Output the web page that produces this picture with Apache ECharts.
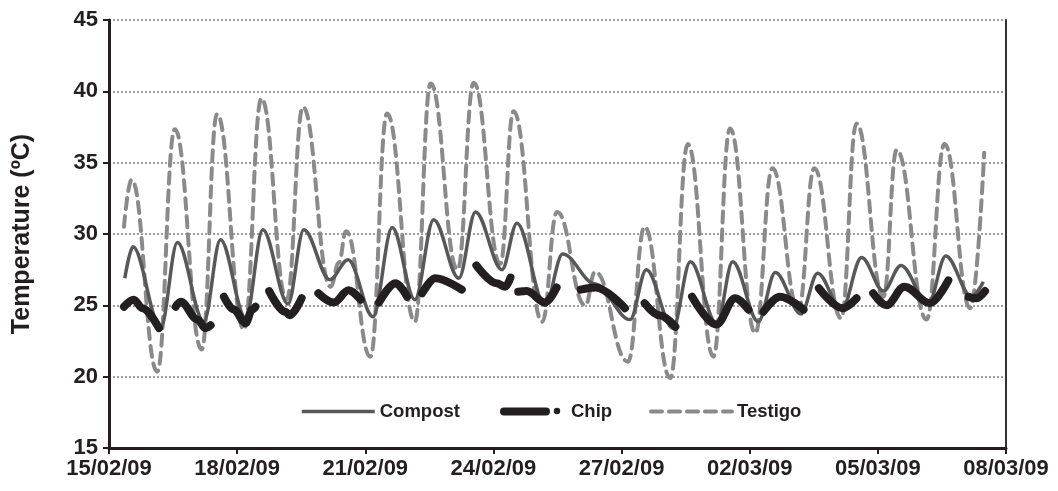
<!DOCTYPE html>
<html>
<head>
<meta charset="utf-8">
<script src="https://cdn.jsdelivr.net/npm/echarts@6/dist/echarts.min.js"></script>
<style>html,body{margin:0;padding:0;background:#fff;}#c{width:1058px;height:491px;}</style>
</head>
<body>
<div id="c"></div>
<script>
// x values are days since 15/02/09
var xTickLabels = ['15/02/09','18/02/09','21/02/09','24/02/09','27/02/09','02/03/09','05/03/09','08/03/09'];
var yTicks = [15,20,25,30,35,40,45];

var testigoDays = [0.35,0.53,1.13,1.54,2.17,2.53,3.16,3.57,4.16,4.54,5.19,5.38,5.55,6.12,6.51,7.16,7.53,8.16,8.54,9.16,9.47,10.14,10.49,11.15,11.38,12.15,12.54,13.14,13.55,14.15,14.54,15.13,15.53,16.14,16.51,17.14,17.50,18.13,18.44,19.14,19.56,20.16,20.49];
var testigoVals = [30.5,33.8,20.35,37.35,21.9,38.4,23.3,39.5,25.4,38.9,26.3,28.0,30.2,21.4,38.45,23.85,40.55,27.5,40.6,27.9,38.6,23.85,31.55,25.0,27.35,21.05,30.5,19.9,36.3,21.4,37.4,23.05,34.6,24.7,34.6,24.1,37.75,25.6,35.9,24.0,36.3,24.8,35.7];

var compostDays = [0.37,0.56,1.21,1.60,2.22,2.61,3.20,3.60,4.19,4.56,5.17,5.60,6.18,6.63,7.16,7.60,8.19,8.58,9.20,9.55,10.21,10.62,11.38,12.20,12.58,13.20,13.61,14.23,14.60,15.20,15.60,16.20,16.59,17.15,17.62,18.13,18.54,19.18,19.59,20.19,20.47];
var compostVals = [26.9,29.1,23.4,29.4,23.85,29.6,24.1,30.3,25.1,30.3,26.8,28.2,24.2,30.45,25.4,31.0,26.9,31.55,27.5,30.75,25.0,28.6,26.5,24.0,27.5,23.4,28.05,23.7,28.05,23.85,27.3,24.4,27.25,24.7,28.35,26.0,27.8,25.1,28.45,25.6,26.65];

// null entries break the Chip line into its separate pieces
var chipDays = [0.35,0.58,0.78,1.17,1.3, 1.56,1.68,2.07,2.26,2.38,2.5, 2.69,2.92,3.20,3.35,3.43,3.6, 3.75,4.13,4.23,4.51,4.7, 4.90,5.26,5.61,5.89,6.1, 6.32,6.71,6.98,7.15, 7.33,7.64,8.26,8.4, 8.60,9.07,9.28,9.40,9.5, 9.58,9.78,10.21,10.48,10.7, 11.04,11.39,12.08,12.3, 12.54,12.89,13.26,13.4, 13.65,14.22,14.66,14.97,15.1, 15.32,15.71,16.26,16.4, 16.62,17.17,17.50,17.7, 17.89,18.20,18.62,19.22,19.65,19.9, 20.12,20.31,20.51];
var chipVals = [24.9,25.4,24.8,23.4,null, 24.9,25.25,24.0,23.4,23.6,null, 25.6,24.7,23.75,24.7,24.9,null, 26.0,24.55,24.3,25.5,null, 25.85,25.2,26.05,25.4,null, 25.2,26.55,25.6,null, 25.84,26.9,26.1,null, 27.8,26.55,26.3,26.95,null, 25.95,26.0,25.2,26.25,null, 26.1,26.25,24.8,null, 25.15,24.3,23.5,null, 25.6,23.65,25.5,24.7,null, 24.55,25.6,24.7,null, 26.2,24.8,25.5,null, 25.85,25.0,26.3,25.15,26.75,null, 25.6,25.5,26.0];

function pairs(xs, ys){ var out=[]; for(var i=0;i<xs.length;i++){ out.push([xs[i], ys[i]]); } return out; }

var labelFont = {fontFamily:'Liberation Sans', fontWeight:'bold', fontSize:22, color:'#231f20'};
function mkLegend(name, left, w, lw, padLeft){
  return {left:left, top:402, padding:0, itemWidth:w, itemHeight:12,
          textStyle:{fontFamily:'Liberation Sans', fontWeight:'bold', fontSize:18.5, color:'#231f20', padding:[0,0,0,padLeft]},
          itemStyle:{opacity:0}, data:[{name:name, lineStyle:{width:lw}}]};
}
var chart = echarts.init(document.getElementById('c'), null, {renderer:'canvas'});
chart.setOption({
  animation:false,
  backgroundColor:'#fff',
  grid:{left:109, right:52, top:20, bottom:43, containLabel:false},
  legend:[mkLegend('Compost',300,73,3.5,0), mkLegend('Chip',500,42,8,20), mkLegend('Testigo',649,81,4,0)],
  graphic:[{type:'circle', shape:{cx:557, cy:411, r:3.2}, style:{fill:'#231f20'}, silent:true}],
  xAxis:{
    type:'value', min:0, max:21, interval:3,
    axisLine:{show:true, onZero:false, lineStyle:{color:'#231f20', width:3}},
    axisTick:{show:true, inside:false, length:6, lineStyle:{color:'#231f20', width:2}},
    splitLine:{show:false},
    axisLabel:Object.assign({margin:10, formatter:function(v){ return xTickLabels[Math.round(v/3)]; }}, labelFont)
  },
  yAxis:[{
    type:'value', min:yTicks[0], max:yTicks[yTicks.length-1], interval:5,
    name:'Temperature (ºC)', nameLocation:'middle', nameGap:74,
    nameTextStyle:{fontFamily:'Liberation Sans', fontWeight:'bold', fontSize:25, color:'#231f20'},
    axisLine:{show:true, lineStyle:{color:'#231f20', width:3}},
    axisTick:{show:true, inside:false, length:6, lineStyle:{color:'#231f20', width:2}},
    splitLine:{show:true, lineStyle:{color:'#808080', width:1.5, type:[2,2]}},
    axisLabel:Object.assign({margin:11}, labelFont)
  },{
    type:'value', min:15, max:45, interval:5, position:'right',
    axisLine:{show:true, lineStyle:{color:'#333', width:2}},
    axisTick:{show:false}, axisLabel:{show:false}, splitLine:{show:false}
  }],
  series:[
    {name:'Compost', type:'line', data:pairs(compostDays, compostVals), smooth:0.35, smoothMonotone:'x', symbol:'none', z:3,
     lineStyle:{color:'#58585a', width:3.5}, itemStyle:{color:'#58585a'}},
    {name:'Chip', type:'line', data:pairs(chipDays, chipVals), smooth:0.35, smoothMonotone:'x', symbol:'none', connectNulls:false, z:4,
     lineStyle:{color:'#231f20', width:8, cap:'round', join:'round'}, itemStyle:{color:'#231f20'}},
    {name:'Testigo', type:'line', data:pairs(testigoDays, testigoVals), smooth:0.45, smoothMonotone:'x', symbol:'none', z:2,
     lineStyle:{color:'#8a8a8c', width:4, type:[11,7], cap:'round'}, itemStyle:{color:'#8a8a8c'}}
  ]
});
</script>
</body>
</html>
